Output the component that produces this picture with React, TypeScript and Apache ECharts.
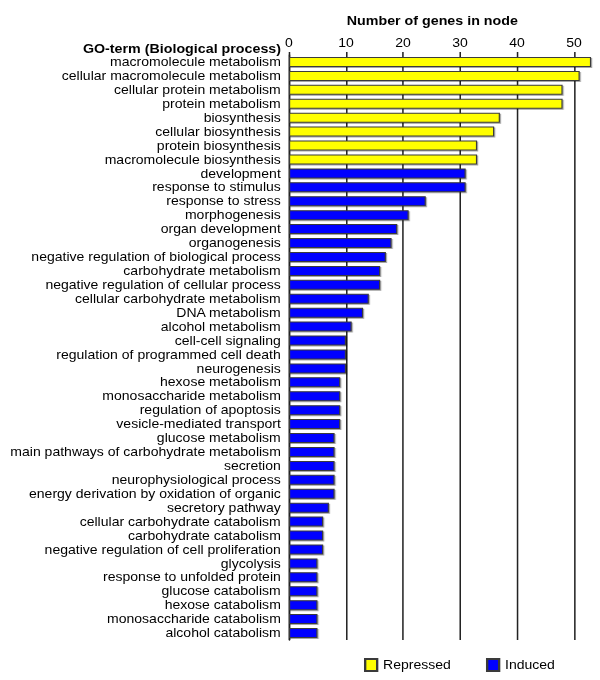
import React, { useEffect, useRef } from "react";
import * as echarts from "echarts";

const categories = [
  "macromolecule metabolism",
  "cellular macromolecule metabolism",
  "cellular protein metabolism",
  "protein metabolism",
  "biosynthesis",
  "cellular biosynthesis",
  "protein biosynthesis",
  "macromolecule biosynthesis",
  "development",
  "response to stimulus",
  "response to stress",
  "morphogenesis",
  "organ development",
  "organogenesis",
  "negative regulation of biological process",
  "carbohydrate metabolism",
  "negative regulation of cellular process",
  "cellular carbohydrate metabolism",
  "DNA metabolism",
  "alcohol metabolism",
  "cell-cell signaling",
  "regulation of programmed cell death",
  "neurogenesis",
  "hexose metabolism",
  "monosaccharide metabolism",
  "regulation of apoptosis",
  "vesicle-mediated transport",
  "glucose metabolism",
  "main pathways of carbohydrate metabolism",
  "secretion",
  "neurophysiological process",
  "energy derivation by oxidation of organic",
  "secretory pathway",
  "cellular carbohydrate catabolism",
  "carbohydrate catabolism",
  "negative regulation of cell proliferation",
  "glycolysis",
  "response to unfolded protein",
  "glucose catabolism",
  "hexose catabolism",
  "monosaccharide catabolism",
  "alcohol catabolism",
];

const geneCounts = [
  53, 51, 48, 48, 37, 36, 33, 33, 31, 31, 24, 21, 19, 18, 17, 16, 16, 14, 13,
  11, 10, 10, 10, 9, 9, 9, 9, 8, 8, 8, 8, 8, 7, 6, 6, 6, 5, 5, 5, 5, 5, 5,
];

// Regulation group per category: first 8 repressed, rest induced
const repressedCount = 8;

const xTicks = { min: 0, max: 55, interval: 10 };

const FONT = "'Liberation Sans', Arial, sans-serif";

// The reference picture is horizontally stretched; draw narrower and stretch.
const OUTER_W = 600;
const SX = 600 / 513;
const INNER_W = 522; // a little wider than the visible area, clipped by the outer box
const px = (x: number) => x / SX; // reference x -> inner x

export default function App() {
  const ref = useRef<HTMLDivElement>(null);

  useEffect(() => {
    if (!ref.current) return;
    const chart = echarts.init(ref.current, null, { renderer: "svg" });

    const repressedData = geneCounts.map((v, i) => (i < repressedCount ? v : "-"));
    const inducedData = geneCounts.map((v, i) => (i >= repressedCount ? v : "-"));

    const barStyle = (color: string) => ({
      color,
      borderColor: "#3a3a3a",
      borderWidth: 1,
      shadowColor: "rgba(0,0,0,0.35)",
      shadowOffsetX: 1,
      shadowOffsetY: 1,
      shadowBlur: 0,
    });

    const gridLeft = px(289);
    const gridRight = INNER_W - px(289 + 55 * 5.7);

    chart.setOption({
      animation: false,
      textStyle: { fontFamily: FONT, color: "#000" },
      grid: { left: gridLeft, right: gridRight, top: 55, bottom: 40, containLabel: false },
      xAxis: {
        type: "value",
        position: "top",
        min: xTicks.min,
        max: xTicks.max,
        interval: xTicks.interval,
        name: "Number of genes in node",
        nameLocation: "middle",
        nameGap: 28,
        nameTextStyle: {
          fontFamily: FONT,
          fontWeight: "bold",
          fontSize: 12.2,
          color: "#000",
          padding: [0, 23, 0, 0],
        },
        axisLine: { show: false },
        axisTick: { show: true, length: 3, lineStyle: { color: "#222", width: 1.3 } },
        axisLabel: {
          fontFamily: FONT,
          fontSize: 12,
          color: "#000",
          margin: 6,
          showMaxLabel: false,
        },
        splitLine: { show: true, lineStyle: { color: "#222", width: 1.3 } },
      },
      yAxis: {
        type: "category",
        data: categories,
        inverse: true,
        axisLine: { show: true, lineStyle: { color: "#222", width: 1.3 } },
        axisTick: { show: false },
        axisLabel: {
          fontFamily: FONT,
          fontSize: 12,
          color: "#000",
          margin: 7,
          interval: 0,
          padding: [3, 0, 0, 0],
        },
        splitLine: { show: false },
      },
      legend: {
        left: px(364),
        top: 658,
        padding: 0,
        icon: "rect",
        itemWidth: px(377) - px(365),
        itemHeight: 12,
        itemGap: 30,
        textStyle: { fontFamily: FONT, fontSize: 12, color: "#000", padding: [0, 0, 0, 0] },
        data: ["Repressed", "Induced"],
      },
      graphic: [
        {
          type: "text",
          x: px(281),
          y: 48.5,
          style: {
            text: "GO-term (Biological process)",
            font: `bold 12.2px ${FONT}`,
            fill: "#000",
            textAlign: "right",
            textVerticalAlign: "middle",
          },
        },
      ],
      series: [
        {
          name: "Repressed",
          type: "bar",
          stack: "g",
          barWidth: 10,
          data: repressedData,
          itemStyle: barStyle("#FFFF00"),
        },
        {
          name: "Induced",
          type: "bar",
          stack: "g",
          barWidth: 10,
          data: inducedData,
          itemStyle: barStyle("#0000FF"),
        },
      ],
    });

    return () => chart.dispose();
  }, []);

  return (
    <div
      style={{
        position: "absolute",
        left: 0,
        top: 0,
        width: OUTER_W,
        height: 680,
        overflow: "hidden",
        background: "#fff",
      }}
    >
      <div
        ref={ref}
        style={{
          width: INNER_W,
          height: 680,
          transform: `scaleX(${SX})`,
          transformOrigin: "0 0",
        }}
      />
    </div>
  );
}
